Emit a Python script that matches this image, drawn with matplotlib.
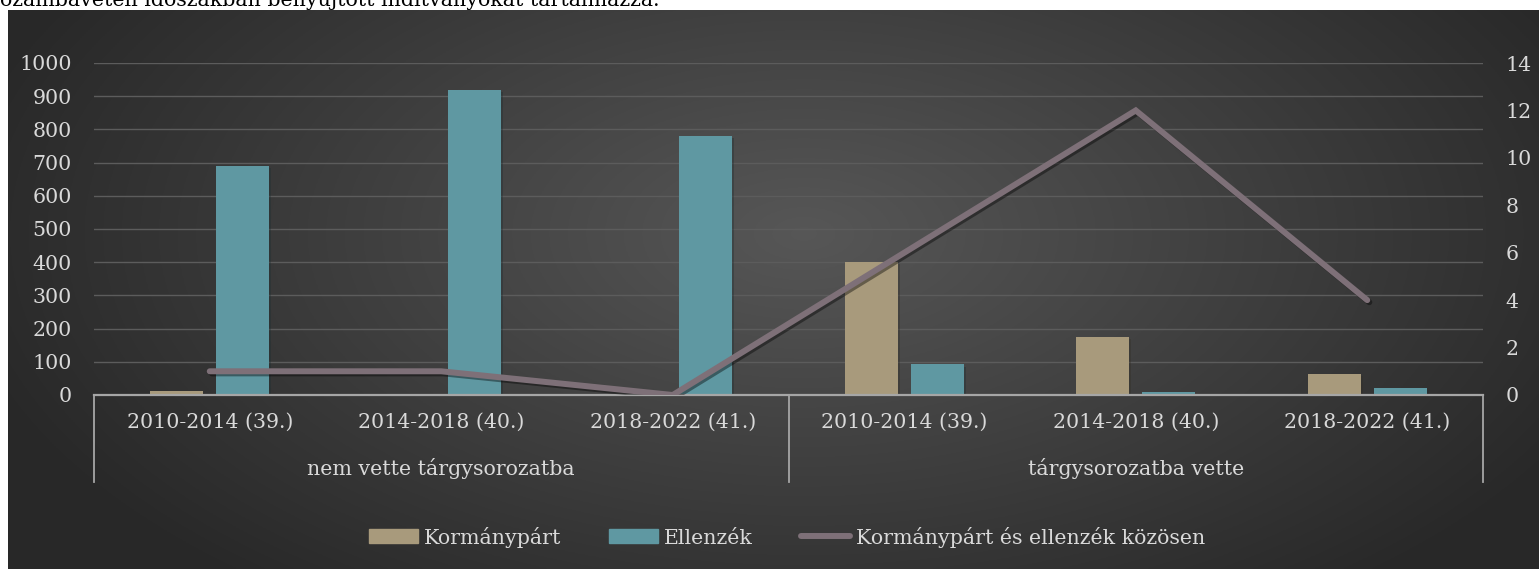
import numpy as np
import matplotlib
matplotlib.use('Agg')
import matplotlib.pyplot as plt
from matplotlib.lines import Line2D
from matplotlib.patches import Patch
import matplotlib.transforms as mtransforms
import matplotlib.patheffects as pe

# data
periods = ['2010-2014 (39.)', '2014-2018 (40.)', '2018-2022 (41.)',
           '2010-2014 (39.)', '2014-2018 (40.)', '2018-2022 (41.)']
groups = ['nem vette tárgysorozatba', 'tárgysorozatba vette']
kormanypart = [12, 4, 0, 400, 175, 63]
ellenzek = [690, 920, 780, 92, 8, 21]
kozosen = [1, 1, 0, 6, 12, 4]

plt.rcParams['font.family'] = ['DejaVu Serif']
txt = '#d9d9d9'
fs = 14.8

fig = plt.figure(figsize=(15.39, 5.69), dpi=100)
fig.patch.set_facecolor('white')

# dark radial background
bg = fig.add_axes([8 / 1539, 0, 1 - 8 / 1539, 1 - 10 / 569])
yy, xx = np.mgrid[0:1:300j, 0:1:800j]
d = np.sqrt(((xx - 0.52) / 0.62) ** 2 + ((yy - 0.4) / 0.9) ** 2)
g = np.clip(0.34 - 0.2 * d, 0.16, 0.34)
bg.imshow(np.dstack([g, g, g]), aspect='auto', extent=[0, 1, 0, 1], origin='upper')
bg.axis('off')

fig.text(0, 1 - 6 / 569, 'ozambavételi időszakban benyújtott indítványokat tartalmazza.',
         fontsize=fs, color='black', va='baseline', ha='left')

ax = fig.add_axes([94 / 1539, 1 - 395 / 569, (1483 - 94) / 1539, (395 - 63) / 569])
ax.patch.set_alpha(0)
x = np.arange(len(periods))
w = 0.229
off = 0.143
shadow = [pe.SimplePatchShadow(offset=(1.5, -1.5), alpha=0.35), pe.Normal()]
bk = ax.bar(x - off, kormanypart, w, color='#a89a7c', zorder=3)
be = ax.bar(x + off, ellenzek, w, color='#5f98a2', zorder=3)
for b in list(bk) + list(be):
    b.set_path_effects(shadow)
ax.set_ylim(0, 1000)
ax.set_xlim(-0.5, 5.5)
ax.set_yticks(range(0, 1001, 100))
ax.grid(axis='y', color='#5c5c5c', linewidth=1, zorder=0)
ax.tick_params(axis='y', length=0, labelsize=fs, labelcolor=txt, pad=16)
ax.set_xticks(x)
ax.set_xticklabels(periods, fontsize=fs, color=txt)
ax.tick_params(axis='x', length=0, pad=13)
for s in ['top', 'right', 'left']:
    ax.spines[s].set_visible(False)
ax.spines['bottom'].set_color('#a6a6a6')
ax.spines['bottom'].set_linewidth(1.6)
ax.spines['bottom'].set_zorder(4)

# second level of the category axis
trans = mtransforms.blended_transform_factory(ax.transData, ax.transAxes)
for sx in [-0.5, 2.5, 5.5]:
    ax.plot([sx, sx], [0, -0.262], color='#a6a6a6', linewidth=1.3,
            transform=trans, clip_on=False)
ax.text(1, -0.22, groups[0], transform=trans, ha='center', va='center',
        fontsize=fs, color=txt)
ax.text(4, -0.22, groups[1], transform=trans, ha='center', va='center',
        fontsize=fs, color=txt)

ax2 = ax.twinx()
ax2.plot(x, kozosen, color='#7e7078', linewidth=4.3, solid_capstyle='round',
         solid_joinstyle='miter', zorder=5,
         path_effects=[pe.SimpleLineShadow(offset=(1.5, -1.5), alpha=0.4), pe.Normal()])
ax2.set_ylim(0, 14)
ax2.set_yticks(range(0, 15, 2))
ax2.tick_params(axis='y', length=0, labelsize=fs, labelcolor=txt, pad=16)
for s in ax2.spines.values():
    s.set_visible(False)

handles = [Patch(color='#a89a7c'), Patch(color='#5f98a2'),
           Line2D([], [], color='#7e7078', linewidth=4.3, solid_capstyle='round')]
labels = ['Kormánypárt', 'Ellenzék', 'Kormánypárt és ellenzék közösen']
fig.legend(handles, labels, loc='center', bbox_to_anchor=(787 / 1539, 1 - 537 / 569),
           ncol=3, frameon=False, fontsize=fs, labelcolor=txt,
           handlelength=2.4, handleheight=0.65, handletextpad=0.3, columnspacing=2.3)

fig.savefig('out.png', dpi=100)
